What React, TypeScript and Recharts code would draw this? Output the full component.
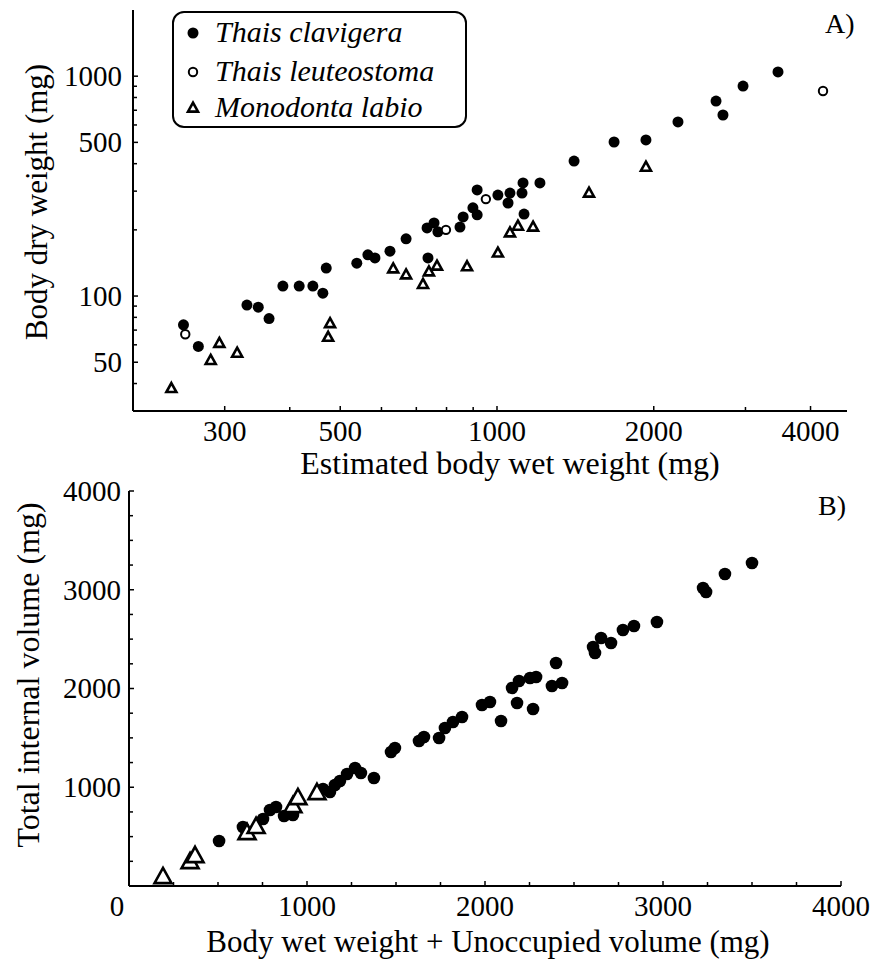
import React from 'react';
import { ScatterChart, Scatter, XAxis, YAxis } from 'recharts';

const SERIF = '"Liberation Serif", "Times New Roman", Times, serif';

// ---------- Panel A: body dry weight vs estimated body wet weight (log–log) ----------
const clavigeraWetA = [
  250, 267, 331, 348, 365, 388, 417, 443, 463, 470, 538, 565, 583, 623, 669, 734, 757, 770, 737,
  849, 861, 899, 916, 916, 1004, 1059, 1050, 1117, 1122, 1209, 1127, 1406, 1678, 1932, 2226, 2634,
  2716, 2968, 3464,
];
const clavigeraDryA = [
  74, 59, 91, 89, 79, 111, 111, 111, 103, 134, 141, 154, 149, 160, 182, 204, 215, 196, 149,
  206, 229, 252, 234, 304, 288, 294, 265, 294, 327, 327, 236, 411, 502, 513, 619, 771,
  666, 902, 1045,
];
const leuteostomaWetA = [252, 798, 952, 4227];
const leuteostomaDryA = [67, 200, 276, 856];
const labioWetA = [237, 282, 293, 317, 474, 478, 632, 669, 721, 740, 767, 876, 1004, 1059, 1097, 1173, 1502, 1932];
const labioDryA = [38, 51, 61, 55, 65, 75, 133, 125, 113, 129, 137, 136, 157, 194, 208, 206, 294, 386];

const xTicksA = [300, 400, 500, 600, 700, 800, 900, 1000, 2000, 3000, 4000];
const xLabelsA = [300, 500, 1000, 2000, 4000];
const yTicksA = [40, 50, 60, 70, 80, 90, 100, 200, 300, 400, 500, 600, 700, 800, 900, 1000];
const yLabelsA = [50, 100, 500, 1000];

// ---------- Panel B: total internal volume vs wet weight + unoccupied volume ----------
const clavigeraSumB = [
  506, 640, 753, 792, 826, 871, 921, 1090, 1129, 1157, 1185, 1225, 1270, 1303, 1376, 1472, 1494,
  1629, 1657, 1742, 1775, 1820, 1871, 1983, 2028, 2090, 2152, 2191, 2180, 2253, 2287, 2270, 2376,
  2433, 2399, 2607, 2618, 2652, 2708, 2775, 2837, 2966, 3225, 3242, 3348, 3500,
];
const clavigeraVolB = [
  456, 598, 679, 770, 800, 709, 719, 982, 952, 1023, 1063, 1134, 1195, 1144, 1094, 1357, 1398,
  1468, 1509, 1499, 1600, 1661, 1711, 1833, 1863, 1671, 2005, 2076, 1853, 2106, 2117, 1792, 2025,
  2056, 2258, 2420, 2360, 2511, 2461, 2592, 2633, 2673, 3018, 2977, 3160, 3271,
];
const labioSumB = [191, 343, 371, 663, 714, 921, 949, 1056];
const labioVolB = [91, 243, 304, 537, 598, 810, 891, 942];

const ticksB = [0, 250, 500, 750, 1000, 1250, 1500, 1750, 2000, 2250, 2500, 2750, 3000, 3250, 3500, 3750, 4000];
const xLabelsB = [0, 1000, 2000, 3000, 4000];
const yLabelsB = [1000, 2000, 3000, 4000];

const zip = (xs: number[], ys: number[]) => xs.map((x, i) => ({ x, y: ys[i] }));

// ---------- marker shapes ----------
const filledDot = (r: number) => (p: any) => <circle cx={p.cx} cy={p.cy} r={r} fill="#000" />;
const openDot = (r: number) => (p: any) => (
  <circle cx={p.cx} cy={p.cy} r={r} fill="#fff" stroke="#000" strokeWidth={2} />
);
const trianglePath = (cx: number, cy: number, w: number) => {
  const h = w * 0.9;
  return `M${cx},${cy - h * 0.6}L${cx + w / 2},${cy + h * 0.4}L${cx - w / 2},${cy + h * 0.4}Z`;
};
const openTriangle = (w: number, sw: number) => (p: any) => (
  <path d={trianglePath(p.cx, p.cy, w)} fill="#fff" stroke="#000" strokeWidth={sw} strokeLinejoin="miter" />
);

// ---------- inward ticks with selective labels ----------
const bottomTick = (labels: number[], shiftZero = 0) => (props: any) => {
  const { x, y, payload } = props;
  const v = payload.value;
  const labeled = labels.includes(v);
  return (
    <g>
      <line x1={x} x2={x} y1={y} y2={y - (labeled ? 5 : 4)} stroke="#000" strokeWidth={1.5} />
      {labeled && (
        <text x={x + (v === 0 ? shiftZero : 0)} y={y + 30} textAnchor="middle" fontFamily={SERIF} fontSize={29} fill="#000">
          {v}
        </text>
      )}
    </g>
  );
};

const leftTick = (labels: number[], gap: number) => (props: any) => {
  const { x, y, payload } = props;
  const v = payload.value;
  const labeled = labels.includes(v);
  return (
    <g>
      <line x1={x} x2={x + (labeled ? 5 : 4)} y1={y} y2={y} stroke="#000" strokeWidth={1.5} />
      {labeled && (
        <text x={x - gap} y={y} dy="0.34em" textAnchor="end" fontFamily={SERIF} fontSize={29} fill="#000">
          {v}
        </text>
      )}
    </g>
  );
};

const axisLine = { stroke: '#000', strokeWidth: 2 };

const textBase: React.CSSProperties = {
  position: 'absolute',
  fontFamily: SERIF,
  color: '#000',
  whiteSpace: 'nowrap',
  lineHeight: 0.9,
};

const Centered = ({ x, y, size, rotate, children }: any) => (
  <div
    style={{
      ...textBase,
      left: x,
      top: y,
      fontSize: size,
      transform: `translate(-50%, -50%)${rotate ? ' rotate(-90deg)' : ''}`,
    }}
  >
    {children}
  </div>
);

const LegendRow = ({ top, marker, label }: any) => (
  <>
    <svg style={{ position: 'absolute', left: 183, top: top - 10, overflow: 'visible' }} width={20} height={20}>
      {marker}
    </svg>
    <div style={{ ...textBase, lineHeight: 1, left: 215, top: top - 16, fontSize: 30, fontStyle: 'italic' }}>{label}</div>
  </>
);

export default function App() {
  return (
    <div style={{ position: 'absolute', left: 0, top: 0, width: 876, height: 961, background: '#fff', overflow: 'hidden' }}>
      {/* Panel A */}
      <div style={{ position: 'absolute', left: 0, top: 0 }}>
        <ScatterChart width={876} height={470} margin={{ top: 10, right: 29, bottom: 0, left: 0 }}>
          <XAxis
            type="number"
            dataKey="x"
            scale="log"
            domain={[200, 4700]}
            allowDataOverflow
            ticks={xTicksA}
            interval={0}
            height={59}
            tickSize={0}
            tickMargin={0}
            tickLine={false}
            axisLine={axisLine}
            tick={bottomTick(xLabelsA)}
          />
          <YAxis
            type="number"
            dataKey="y"
            scale="log"
            domain={[30, 2000]}
            allowDataOverflow
            ticks={yTicksA}
            interval={0}
            width={133}
            tickSize={0}
            tickMargin={0}
            tickLine={false}
            axisLine={axisLine}
            tick={leftTick(yLabelsA, 11)}
          />
          <Scatter name="Thais clavigera" data={zip(clavigeraWetA, clavigeraDryA)} shape={filledDot(5.5)} isAnimationActive={false} />
          <Scatter name="Thais leuteostoma" data={zip(leuteostomaWetA, leuteostomaDryA)} shape={openDot(4.2)} isAnimationActive={false} />
          <Scatter name="Monodonta labio" data={zip(labioWetA, labioDryA)} shape={openTriangle(10, 2.6)} isAnimationActive={false} />
        </ScatterChart>
      </div>

      {/* Panel B */}
      <div style={{ position: 'absolute', left: 0, top: 470 }}>
        <ScatterChart width={876} height={491} margin={{ top: 21, right: 35, bottom: 0, left: 0 }}>
          <XAxis
            type="number"
            dataKey="x"
            domain={[0, 4000]}
            allowDataOverflow
            ticks={ticksB}
            interval={0}
            height={75}
            tickSize={0}
            tickMargin={0}
            tickLine={false}
            axisLine={axisLine}
            tick={bottomTick(xLabelsB, -12)}
          />
          <YAxis
            type="number"
            dataKey="y"
            domain={[0, 4000]}
            allowDataOverflow
            ticks={ticksB}
            interval={0}
            width={129}
            tickSize={0}
            tickMargin={0}
            tickLine={false}
            axisLine={axisLine}
            tick={leftTick(yLabelsB, 8)}
          />
          <Scatter name="Thais clavigera" data={zip(clavigeraSumB, clavigeraVolB)} shape={filledDot(6.3)} isAnimationActive={false} />
          <Scatter name="Monodonta labio" data={zip(labioSumB, labioVolB)} shape={openTriangle(17, 2.6)} isAnimationActive={false} />
        </ScatterChart>
      </div>

      {/* Legend for panel A */}
      <div
        style={{
          position: 'absolute',
          left: 172,
          top: 11,
          width: 295,
          height: 117,
          boxSizing: 'border-box',
          border: '2px solid #000',
          borderRadius: 12,
          background: '#fff',
        }}
      />
      <LegendRow top={33} label="Thais clavigera" marker={<circle cx={10} cy={10} r={5.5} fill="#000" />} />
      <LegendRow top={72} label="Thais leuteostoma" marker={<circle cx={10} cy={10} r={4.2} fill="#fff" stroke="#000" strokeWidth={2} />} />
      <LegendRow
        top={108}
        label="Monodonta labio"
        marker={<path d={trianglePath(10, 10, 10)} fill="#fff" stroke="#000" strokeWidth={2.6} />}
      />

      {/* Axis titles and panel tags */}
      <Centered x={510} y={463} size={32}>Estimated body wet weight (mg)</Centered>
      <Centered x={37} y={202} size={31} rotate>Body dry weight (mg)</Centered>
      <div style={{ ...textBase, lineHeight: 1, left: 825, top: 10, fontSize: 28 }}>A)</div>

      <Centered x={488} y={942} size={31}>Body wet weight + Unoccupied volume (mg)</Centered>
      <Centered x={28} y={675} size={32} rotate>Total internal volume (mg)</Centered>
      <div style={{ ...textBase, lineHeight: 1, left: 818, top: 492, fontSize: 28 }}>B)</div>
    </div>
  );
}
